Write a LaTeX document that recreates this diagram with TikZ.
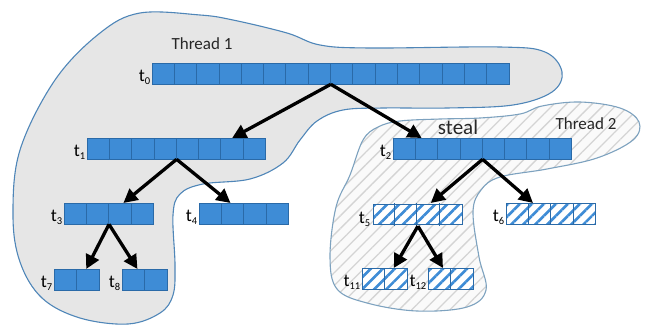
\documentclass[tikz,border=0pt]{standalone}
\usepackage{fontspec}
\setmainfont{Carlito}
\usepackage{tikz}
\usetikzlibrary{arrows.meta,positioning,calc,patterns.meta}
\definecolor{cellblue}{HTML}{3E8CD6}
\definecolor{cellline}{HTML}{2A6AA8}
\definecolor{blobgray}{HTML}{E6E6E6}
\definecolor{blobline}{HTML}{4F86B8}
\definecolor{stealline}{HTML}{7DA2BF}
\definecolor{hatchgray}{HTML}{D4D4D4}
\tikzset{
  cellbar/.style={draw=cellline, line width=0.8pt, fill=cellblue, inner sep=0pt,
                  minimum height=20.5pt, anchor=north west},
  hatchbar/.style={draw=cellline, line width=0.8pt, inner sep=0pt,
                   minimum height=20.5pt, anchor=north west, preaction={fill=white},
                   pattern={Lines[angle=45,distance=8.5pt,line width=2.6pt]},
                   pattern color=cellblue},
  tlab/.style={font=\fontsize{18}{20}\selectfont, inner sep=0pt},
  thr/.style={font=\fontsize{17}{20}\selectfont, text=black!85},
  edge/.style={-{Triangle[length=14pt,width=14pt]}, line width=3.3pt},
  blobone/.style={draw=blobline, line width=1.1pt, fill=blobgray},
  blobtwo/.style={draw=stealline, line width=1.1pt, preaction={fill=black!2},
                  pattern={Lines[angle=45,distance=9pt,line width=1.3pt]},
                  pattern color=hatchgray}
}
% one task: number, style, top left corner, cells
\newcommand{\taskbar}[4]{%
  \pgfmathsetmacro{\barw}{#4*22.3}%
  \node[#2, minimum width=\barw pt] (t#1) at (#3) {};
  \pgfmathtruncatemacro{\lastk}{#4-1}%
  \foreach \k in {1,...,\lastk}
    \draw[cellline, line width=0.8pt] ([xshift=\k*22.3pt]t#1.north west) -- ([xshift=\k*22.3pt]t#1.south west);
  \node[tlab, left=1.5pt of t#1.south west, anchor=base east, yshift=3pt] (l#1)
    {t\raisebox{-3.5pt}{\fontsize{10.5}{11}\selectfont #1}};
}

\begin{document}
\begin{tikzpicture}[x=1pt, y=-1pt]
  \useasboundingbox (0,0) rectangle (647,327);

  % the two threads
  \draw[blobone] plot[smooth cycle, tension=0.6] coordinates {
    (140,13) (200,15) (233,20) (287,33) (320,45) (370,48) (500,47) (545,52)
    (562,72) (552,92) (513,105) (447,108) (383,108) (343,110) (317,121)
    (300,140) (283,163) (250,179) (203,184) (180,194) (173,215) (175,265)
    (173,295) (160,313) (128,324) (80,318) (42,298) (20,262) (13,215)
    (20,150) (55,80) (100,33)};
  \draw[blobtwo] plot[smooth cycle, tension=0.6] coordinates {
    (363,140) (378,127) (400,121) (440,119) (480,118) (520,114) (542,106)
    (580,102) (620,108) (639,122) (633,140) (597,158) (547,169) (500,177)
    (481,190) (473,212) (479,257) (486,290) (467,307) (417,311) (367,303)
    (337,289) (330,257) (336,207) (350,175)};

  \node[thr] (thr1) at (202,44) {Thread 1};
  \node[thr] (thr2) at (586,124) {Thread 2};
  \node[font=\fontsize{21}{24}\selectfont, text=black!85] (steal) at (458,127) {steal};

  % tasks
  \taskbar{0}{cellbar}{152,63}{16}
  \taskbar{1}{cellbar}{87,138}{8}
  \taskbar{2}{cellbar}{393,138}{8}
  \taskbar{3}{cellbar}{64,203}{4}
  \taskbar{4}{cellbar}{199,203}{4}
  \taskbar{5}{hatchbar}{372,203}{4}
  \taskbar{6}{hatchbar}{506,203}{4}
  \taskbar{7}{cellbar}{54,269}{2}
  \taskbar{8}{cellbar}{122,269}{2}
  \taskbar{11}{hatchbar}{362,268}{2}
  \taskbar{12}{hatchbar}{428,268}{2}

  % spawning
  \draw[edge] (t0.south) -- ($(t1.north west)!.81!(t1.north east)$);
  \draw[edge] (t0.south) -- ($(t2.north west)!.16!(t2.north east)$);
  \draw[edge] (t1.south) -- ($(t3.north west)!.66!(t3.north east)$);
  \draw[edge] (t1.south) -- ($(t4.north west)!.35!(t4.north east)$);
  \draw[edge] (t3.south) -- ($(t7.north west)!.71!(t7.north east)$);
  \draw[edge] (t3.south) -- ($(t8.north west)!.34!(t8.north east)$);
  \draw[edge] (t2.south) -- ($(t5.north west)!.64!(t5.north east)$);
  \draw[edge] (t2.south) -- ($(t6.north west)!.30!(t6.north east)$);
  \draw[edge] (t5.south) -- ($(t11.north west)!.70!(t11.north east)$);
  \draw[edge] (t5.south) -- ($(t12.north west)!.33!(t12.north east)$);
\end{tikzpicture}
\end{document}
